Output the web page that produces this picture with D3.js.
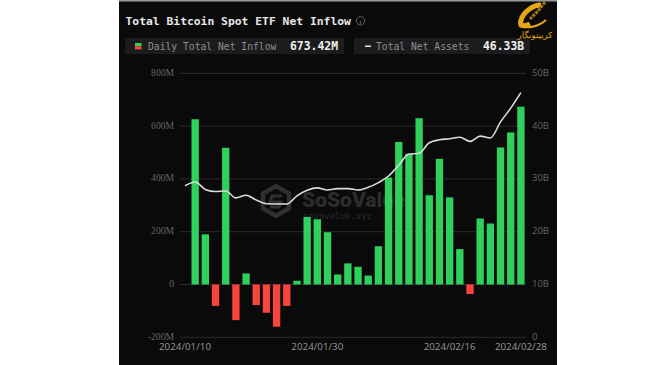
<!DOCTYPE html>
<html>
<head>
<meta charset="utf-8">
<script src="https://cdnjs.cloudflare.com/ajax/libs/d3/7.8.5/d3.min.js"></script>
<style>
  html, body { margin: 0; padding: 0; background: #fff; }
  svg { display: block; }
  text { font-family: "Liberation Serif", serif; }
  .mono { font-family: "DejaVu Sans Mono", monospace; }
</style>
</head>
<body>
<div id="chart"></div>
<script>
// データ（01/10 はバーなし）
const dates = ['2024/01/10','2024/01/11','2024/01/12','2024/01/16','2024/01/17','2024/01/18','2024/01/19',
  '2024/01/22','2024/01/23','2024/01/24','2024/01/25','2024/01/26','2024/01/29','2024/01/30','2024/01/31',
  '2024/02/01','2024/02/02','2024/02/05','2024/02/06','2024/02/07','2024/02/08','2024/02/09','2024/02/12',
  '2024/02/13','2024/02/14','2024/02/15','2024/02/16','2024/02/20','2024/02/21','2024/02/22','2024/02/23',
  '2024/02/26','2024/02/27','2024/02/28'];
const netInflow = [0, 626, 190, -81, 518, -135, 42, -78, -107, -160, -81, 14, 256, 247, 198,
  38, 80, 67, 34, 145, 405, 540, 495, 630, 338, 476, 330, 134, -36, 250, 231, 519, 576, 673.42];
const netAssets = [28.7, 29.4, 28.0, 27.6, 27.7, 26.4, 26.9, 26.0, 25.3, 25.25, 25.25, 26.8, 27.85, 28.3, 27.9,
  28.15, 28.15, 27.9, 28.4, 29.3, 30.55, 32.6, 34.7, 34.85, 36.85, 37.4, 37.6, 37.9, 37.1, 38.1, 37.75,
  40.8, 43.4, 46.33];
const inflowTicks = [-200, 0, 200, 400, 600, 800];
const assetTicks = [0, 10, 20, 30, 40, 50];
const dateTicks = ['2024/01/10', '2024/01/30', '2024/02/16', '2024/02/28'];

const width = 650, height = 365;
const svg = d3.select('#chart').append('svg').attr('width', width).attr('height', height);

// パネル背景
svg.append('rect').attr('x', 119).attr('y', 0).attr('width', 438).attr('height', height).attr('fill', '#0a0a0a');
svg.append('rect').attr('x', 119).attr('y', 0).attr('width', 438).attr('height', 1.5).attr('fill', '#9a9a9a');

// スケール
const x = d3.scaleBand().domain(dates).range([179.9, 526]).paddingInner(0.28).paddingOuter(0.14);
const yLeft = d3.scaleLinear().domain([-200, 800]).range([337.3, 73.3]);
const yRight = d3.scaleLinear().domain([0, 50]).range([337.3, 73.3]);

// ウォーターマーク
const mark = svg.append('g').attr('transform', 'translate(276,201)');
mark.append('path')
  .attr('d', d3.range(6).map(i => {
    const a = Math.PI / 3 * i + Math.PI / 6;
    return (i ? 'L' : 'M') + (15 * Math.cos(a)).toFixed(1) + ',' + (15 * Math.sin(a)).toFixed(1);
  }).join('') + 'Z')
  .attr('fill', 'none').attr('stroke', '#303032').attr('stroke-width', 4.5);
mark.append('path').attr('d', 'M6,-5 L-4,-5 L-6,1 L5,1 L3,6 L-6,6')
  .attr('fill', 'none').attr('stroke', '#303032').attr('stroke-width', 3);
svg.append('text').attr('x', 302).attr('y', 207).attr('fill', '#2c2c2e')
  .style('font-family', 'Roboto, sans-serif').style('font-weight', 900).style('font-size', '21px')
  .text('SoSoValue');
svg.append('text').attr('class', 'mono').attr('x', 303).attr('y', 219).attr('fill', '#2c2c2e')
  .style('font-size', '8.8px').text('sosovalue.xyz');

// グリッド線
svg.append('g').selectAll('line').data(inflowTicks).enter().append('line')
  .attr('x1', 180).attr('x2', 526)
  .attr('y1', d => yLeft(d)).attr('y2', d => yLeft(d))
  .attr('stroke', '#2b2b2b').attr('stroke-width', 1);

// バー
svg.append('g').selectAll('rect').data(dates.map((d, i) => ({ date: d, value: netInflow[i] })))
  .enter().append('rect')
  .attr('x', d => x(d.date))
  .attr('width', x.bandwidth())
  .attr('y', d => yLeft(Math.max(0, d.value)))
  .attr('height', d => Math.abs(yLeft(d.value) - yLeft(0)))
  .attr('fill', d => d.value >= 0 ? '#2fd05c' : '#f9433d');

// 総資産ライン
const line = d3.line()
  .x((d, i) => x(dates[i]) + x.bandwidth() / 2)
  .y(d => yRight(d))
  .curve(d3.curveMonotoneX);
svg.append('path').datum(netAssets)
  .attr('fill', 'none').attr('stroke', '#dcdcdc').attr('stroke-width', 1.6).attr('d', line);

// 軸
function styleAxis(g, color, size) {
  g.select('.domain').remove();
  g.selectAll('.tick line').remove();
  g.selectAll('.tick text').attr('fill', color).style('font-size', size);
}
const leftAxis = svg.append('g').attr('transform', 'translate(174,-1)')
  .call(d3.axisLeft(yLeft).tickValues(inflowTicks).tickSize(0).tickPadding(0)
    .tickFormat(d => d === 0 ? '0' : d + 'M'));
styleAxis(leftAxis, '#666666', '9.6px');

const rightAxis = svg.append('g').attr('transform', 'translate(532,-1)')
  .call(d3.axisRight(yRight).tickValues(assetTicks).tickSize(0).tickPadding(0)
    .tickFormat(d => d === 0 ? '0' : d + 'B'));
styleAxis(rightAxis, '#666666', '9.5px');
rightAxis.selectAll('.tick text').style('font-family', '"Open Sans", sans-serif');

const bottomAxis = svg.append('g').attr('transform', 'translate(0,343.5)')
  .call(d3.axisBottom(x).tickValues(dateTicks).tickSize(0).tickPadding(0));
styleAxis(bottomAxis, '#989898', '9.8px');
bottomAxis.selectAll('.tick text').style('font-family', '"Open Sans", sans-serif');

// タイトル
svg.append('text').attr('class', 'mono').attr('x', 125.5).attr('y', 25)
  .attr('fill', '#e8e8e8').style('font-size', '11.35px').style('font-weight', 700)
  .text('Total Bitcoin Spot ETF Net Inflow');
svg.append('circle').attr('cx', 360.5).attr('cy', 20.8).attr('r', 4.2)
  .attr('fill', 'none').attr('stroke', '#7a7a7a').attr('stroke-width', 0.8);
svg.append('text').attr('x', 360.5).attr('y', 23.5).attr('text-anchor', 'middle')
  .attr('fill', '#7a7a7a').style('font-size', '7px').text('i');

// 凡例
svg.append('rect').attr('x', 125).attr('y', 38).attr('width', 219).attr('height', 16).attr('fill', '#1c1c1e');
svg.append('rect').attr('x', 354).attr('y', 38).attr('width', 176).attr('height', 16).attr('fill', '#1c1c1e');
svg.append('rect').attr('x', 135).attr('y', 43).attr('width', 6.5).attr('height', 3.2).attr('fill', '#2fd05c');
svg.append('rect').attr('x', 135).attr('y', 46.2).attr('width', 6.5).attr('height', 3.2).attr('fill', '#f9433d');
svg.append('text').attr('class', 'mono').attr('x', 148).attr('y', 49.5).attr('fill', '#8f8f8f')
  .style('font-size', '9.7px').text('Daily Total Net Inflow');
svg.append('text').attr('class', 'mono').attr('x', 290).attr('y', 50).attr('fill', '#f0f0f0')
  .style('font-size', '11.4px').style('font-weight', 700).text('673.42M');
svg.append('rect').attr('x', 365).attr('y', 45.5).attr('width', 6).attr('height', 1.5).attr('fill', '#e4e4e4');
svg.append('text').attr('class', 'mono').attr('x', 376).attr('y', 49.5).attr('fill', '#8f8f8f')
  .style('font-size', '9.7px').text('Total Net Assets');
svg.append('text').attr('class', 'mono').attr('x', 483).attr('y', 50).attr('fill', '#f0f0f0')
  .style('font-size', '11.4px').style('font-weight', 700).text('46.33B');

// ロゴ
const logo = svg.append('g');
logo.append('path')
  .attr('d', 'M541,5 C532,5 523,13 521,20 C519,26 524,27 530,24')
  .attr('fill', 'none').attr('stroke', '#e6a817').attr('stroke-width', 5);
logo.append('path')
  .attr('d', 'M519,26 C527,29 538,27 546,20')
  .attr('fill', 'none').attr('stroke', '#e6a817').attr('stroke-width', 2);
logo.append('path')
  .attr('d', 'M545,2 L538,11 L530,19')
  .attr('fill', 'none').attr('stroke', '#a8791a').attr('stroke-width', 3).attr('stroke-dasharray', '3 1');
logo.append('text').attr('x', 535).attr('y', 37.5).attr('text-anchor', 'middle').attr('fill', '#e6a817')
  .style('font-family', '"DejaVu Sans", sans-serif').style('font-size', '8.6px')
  .text('کریپتونگار');
</script>
</body>
</html>
